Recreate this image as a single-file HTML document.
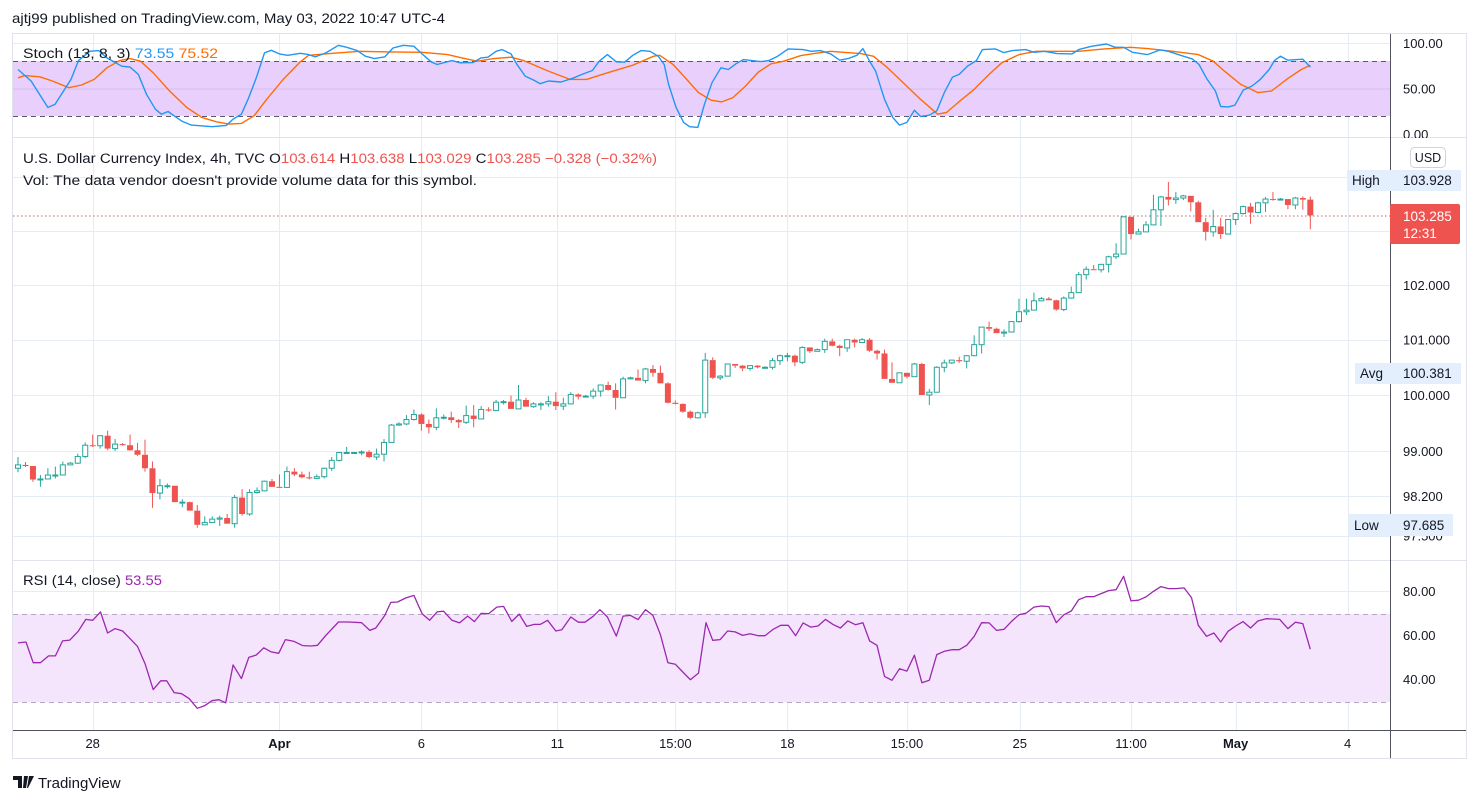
<!DOCTYPE html>
<html><head><meta charset="utf-8"><style>
html,body{margin:0;padding:0;background:#fff;}
svg{display:block;font-family:"Liberation Sans",sans-serif;}
</style></head><body>
<svg id="chart" width="1478" height="803" viewBox="0 0 1478 803" xmlns="http://www.w3.org/2000/svg">
<text x="12" y="23" font-size="14" fill="#131722" textLength="433" lengthAdjust="spacingAndGlyphs">ajtj99 published on TradingView.com, May 03, 2022 10:47 UTC-4</text>
<rect x="12.5" y="33.5" width="1454" height="725" fill="none" stroke="#e0e3eb"/>
<g id="grid"></g>
<g>
<rect x="13" y="61" width="1377" height="55" fill="#e9d0fc"/>
<line x1="13" y1="89" x2="1390" y2="89" stroke="#d3bbee" stroke-width="1"/>
<line x1="13" y1="61.5" x2="1390" y2="61.5" stroke="#5d5670" stroke-dasharray="5,4"/>
<line x1="13" y1="116.5" x2="1390" y2="116.5" stroke="#5d5670" stroke-dasharray="5,4"/>
<g id="stochLines"></g>
<text x="23" y="58" font-size="13.5" fill="#131722" textLength="195" lengthAdjust="spacingAndGlyphs">Stoch (13, 8, 3)  <tspan fill="#2196f3">73.55</tspan>  <tspan fill="#ff6d00">75.52</tspan></text>
</g>
<line x1="13" y1="137.5" x2="1466" y2="137.5" stroke="#e0e3eb"/>
<line x1="13" y1="560.5" x2="1466" y2="560.5" stroke="#e0e3eb"/>
<g id="pricePane">
<line x1="13" y1="216" x2="1390" y2="216" stroke="#ef5350" stroke-dasharray="1.5,2.5"/>
<g id="candles"></g>
<text x="23" y="163" font-size="13.5" fill="#131722" textLength="634" lengthAdjust="spacingAndGlyphs">U.S. Dollar Currency Index, 4h, TVC  O<tspan fill="#ef5350">103.614</tspan>  H<tspan fill="#ef5350">103.638</tspan>  L<tspan fill="#ef5350">103.029</tspan>  C<tspan fill="#ef5350">103.285</tspan>  <tspan fill="#ef5350">−0.328 (−0.32%)</tspan></text>
<text x="23" y="185" font-size="13.5" fill="#131722" textLength="454" lengthAdjust="spacingAndGlyphs">Vol: The data vendor doesn't provide volume data for this symbol.</text>
</g>
<g>
<rect x="13" y="614" width="1377" height="88" fill="#f4e5fd"/>
<line x1="13" y1="614.5" x2="1390" y2="614.5" stroke="#b6a8c4" stroke-dasharray="5,4"/>
<line x1="13" y1="702.5" x2="1390" y2="702.5" stroke="#b6a8c4" stroke-dasharray="5,4"/>
<g id="rsiLine"></g>
<text x="23" y="585" font-size="13.5" fill="#131722" textLength="139" lengthAdjust="spacingAndGlyphs">RSI (14, close)  <tspan fill="#9c27b0">53.55</tspan></text>
</g>
<line x1="13" y1="730.5" x2="1466" y2="730.5" stroke="#50535e"/>
<line x1="1390.5" y1="34" x2="1390.5" y2="758" stroke="#50535e"/>
<g id="axisLabels" font-size="13" fill="#131722"></g>
<g><rect x="1410.5" y="147.5" width="35" height="20" rx="4" fill="#fff" stroke="#d1d4dc"/><text x="1428" y="162" font-size="12.5" fill="#131722" text-anchor="middle">USD</text></g>
<g><rect x="1347" y="170" width="114" height="21" fill="#e3effd"/><text x="1352" y="185" font-size="13.5" fill="#131722">High</text><text x="1403" y="185" font-size="13.5" fill="#131722">103.928</text></g>
<g><rect x="1390" y="204" width="70" height="40" rx="2" fill="#ef5350"/><text x="1403" y="221" font-size="13.5" fill="#fff">103.285</text><text x="1403" y="238" font-size="13.5" fill="#fff">12:31</text></g>
<g><rect x="1355" y="363" width="106" height="21" fill="#e3effd"/><text x="1360" y="378" font-size="13.5" fill="#131722">Avg</text><text x="1403" y="378" font-size="13.5" fill="#131722">100.381</text></g>
<g><rect x="1349" y="514" width="104" height="22" fill="#e3effd"/><text x="1354" y="530" font-size="13.5" fill="#131722">Low</text><text x="1403" y="530" font-size="13.5" fill="#131722">97.685</text></g>
<g>
<path d="M13 776h9v12h-4v-8h-5z M24 776h4l-2 12h-3z M29 776h5l-6 12h-1z" fill="#131722"/>
<text x="38" y="788" font-size="15" fill="#131722">TradingView</text>
</g>
</svg>
<script>
const closes=[98.75,98.73,98.49,98.50,98.57,98.57,98.75,98.78,98.90,99.10,99.09,99.27,99.04,99.12,99.10,99.01,98.93,98.69,98.25,98.38,98.38,98.09,98.09,97.94,97.69,97.73,97.79,97.81,97.71,98.17,97.88,98.26,98.29,98.46,98.36,98.35,98.63,98.58,98.53,98.51,98.54,98.69,98.83,98.97,98.97,98.97,98.98,98.89,98.94,99.15,99.46,99.48,99.56,99.65,99.48,99.42,99.59,99.60,
99.55,99.51,99.63,99.57,99.74,99.72,99.87,99.88,99.75,99.91,99.79,99.84,99.84,99.88,99.80,99.84,100.01,99.97,99.98,100.07,100.18,100.09,99.95,100.29,100.31,100.26,100.47,100.40,100.21,99.86,99.84,99.70,99.59,99.68,
100.63,100.31,100.34,100.56,100.53,100.48,100.53,100.50,100.50,100.62,100.71,100.71,100.59,100.86,100.79,100.82,100.97,100.89,100.85,101.00,100.95,101.00,100.80,100.75,100.29,100.22,100.40,100.33,100.56,100.00,100.05,100.50,100.58,100.63,100.61,100.71,100.91,101.23,101.20,101.12,101.14,101.33,101.51,101.54,101.71,101.75,101.72,101.55,101.76,101.86,102.19,102.29,102.28,102.38,102.52,102.57,103.26,102.94,102.98,103.11,103.39,103.63,103.58,103.61,103.65,103.53,103.16,102.98,103.08,102.94,103.21,103.32,103.45,103.34,103.52,103.59,103.58,103.59,103.48,103.61,103.58,103.285];
const firstOpen=98.69;
const highs=[98.89,98.80,98.72,98.57,98.69,98.72,98.81,98.80,98.95,99.15,99.29,99.28,99.36,99.21,99.14,99.29,99.14,99.20,98.81,98.50,98.42,98.35,98.14,98.10,98.04,97.84,97.84,97.85,97.88,98.22,98.32,98.32,98.35,98.47,98.50,98.58,98.72,98.69,98.63,98.63,98.58,98.70,98.89,98.98,99.07,98.97,99.01,99.01,99.04,99.21,99.48,99.51,99.64,99.74,99.67,99.56,99.76,99.65,
99.70,99.57,99.81,99.82,99.80,99.78,99.91,99.91,99.99,100.18,99.95,99.87,99.87,99.98,100.05,99.95,100.05,100.03,100.00,100.12,100.18,100.24,100.21,100.33,100.33,100.46,100.49,100.54,100.53,100.23,99.90,99.85,99.72,99.70,
100.76,100.68,100.36,100.56,100.56,100.54,100.54,100.54,100.52,100.67,100.73,100.76,100.73,100.88,100.86,100.84,101.02,101.02,100.91,101.00,101.02,101.03,101.03,100.82,100.82,100.59,100.40,100.40,100.58,100.58,100.11,100.52,100.64,100.63,100.69,100.72,101.08,101.23,101.33,101.22,101.19,101.34,101.75,101.75,101.86,101.78,101.78,101.73,101.79,101.97,102.24,102.34,102.37,102.38,102.54,102.77,103.26,103.26,103.04,103.18,103.67,103.65,103.91,103.72,103.67,103.65,103.56,103.24,103.39,103.24,103.21,103.34,103.47,103.52,103.54,103.63,103.72,103.61,103.58,103.63,103.64,103.638];
const lows=[98.62,98.71,98.45,98.36,98.50,98.51,98.57,98.75,98.77,98.87,99.07,99.04,99.01,99.00,99.09,99.00,98.91,98.63,97.99,98.14,98.33,98.09,98.00,97.94,97.64,97.69,97.73,97.67,97.71,97.64,97.85,97.85,98.24,98.28,98.36,98.35,98.36,98.55,98.51,98.49,98.50,98.51,98.64,98.81,98.95,98.97,98.92,98.87,98.84,98.81,99.15,99.45,99.46,99.54,99.36,99.31,99.37,99.56,
99.50,99.41,99.48,99.42,99.58,99.70,99.79,99.83,99.75,99.75,99.79,99.77,99.73,99.79,99.73,99.73,99.83,99.92,99.96,99.93,99.97,100.08,99.74,99.95,100.29,100.26,100.21,100.33,100.21,99.85,99.83,99.68,99.57,99.58,
99.59,100.29,100.27,100.41,100.49,100.43,100.44,100.48,100.48,100.46,100.54,100.61,100.52,100.56,100.76,100.80,100.76,100.88,100.70,100.78,100.86,100.96,100.78,100.64,100.29,100.22,100.22,100.30,100.33,100.00,99.82,100.06,100.41,100.56,100.58,100.48,100.70,100.75,101.16,101.12,101.05,101.14,101.31,101.45,101.54,101.71,101.72,101.53,101.52,101.75,101.86,102.10,102.29,102.23,102.23,102.48,102.57,102.84,102.94,103.00,103.10,103.09,103.47,103.50,103.57,103.36,103.16,102.82,102.89,102.85,102.94,103.11,103.30,103.13,103.34,103.35,103.56,103.58,103.40,103.40,103.39,103.029];
const stochKBar=[0,1.75,4.0,4.96,7.1,8.1,9.6,10.8,11.9,13.9,15.0,16.1,17.2,18.4,19.2,20.1,20.9,22.0,23.2,26.0,27.9,28.8,29.9,30.8,31.9,33.0,33.9,35.0,36.1,37.8,38.9,39.8,41.2,42.9,44.0,45.4,46.5,47.7,49.1,50.2,51.6,53.0,54.1,55.3,56.1,58.1,59.2,60.9,62.0,62.9,64.0,64.8,66.0,66.8,67.9,69.1,69.9,71.0,72.7,74.4,75.5,76.9,77.8,78.9,80.1,81.2,82.3,83.4,84.6,85.7,86.5,87.1,88.1,89.1,89.9,91.0,91.9,92.9,94.1,95.1,96.1,97.1,99.4,100.5,101.7,103.1,105.1,106.2,107.4,108.8,110.0,111.1,112.3,113.1,114.0,114.8,116.0,117.1,118.0,119.0,120.0,120.8,122.0,123.0,124.0,125.1,126.0,127.1,128.3,129.1,130.8,132.0,133.1,134.9,136.0,137.4,139.1,141.1,142.0,143.7,145.7,146.9,148.0,149.2,151.2,152.9,154.0,156.0,157.2,158.1,159.2,160.3,161.0,162.0,162.9,164.0,165.2,166.3,167.5,168.2,169.0,170.0,172.0,173.0];
const stochKVal=[70.9,58.2,29.1,32.7,60.0,80.7,90.9,91.6,83.6,74.5,73.5,65.5,43.6,27.3,21.8,24.7,20.0,13.8,9.8,8.0,9.5,16.4,21.8,38.2,61.8,89.1,92.0,88.0,86.5,88.7,87.3,84.7,89.1,97.5,95.3,91.6,85.5,82.9,84.7,94.5,97.5,96.4,88.0,79.3,76.4,80.7,78.2,78.5,83.6,84.4,90.9,92.7,88.0,76.4,63.6,58.9,55.3,58.2,57.1,61.8,65.5,69.8,80.0,87.3,79.3,78.9,86.5,91.6,90.9,85.5,76.4,54.5,29.1,12.7,8.0,7.3,32.7,56.4,72.7,70.9,77.1,81.8,79.6,80.7,85.5,93.5,92.7,90.9,91.6,88.0,81.1,82.9,86.5,93.8,80.0,69.1,38.2,18.2,9.8,12.7,26.2,19.3,20.7,25.5,45.5,62.5,65.5,74.5,80.7,92.7,93.5,89.5,91.6,92.7,89.8,90.9,88.4,88.0,92.7,96.4,98.9,95.3,95.3,89.8,87.3,92.4,90.9,85.5,82.5,76.4,60.0,47.3,30.2,29.8,31.6,48.0,52.7,60.0,70.9,80.7,85.5,81.1,82.2,73.55];
const stochDBar=[0,0.9,2.9,4.6,6.8,8.5,10.2,11.9,13.6,15.0,16.4,18.1,20.3,22.6,24.6,26.5,28.2,29.9,31.6,33.3,35.5,37.8,38.9,41.7,45.7,49.6,54.1,57.5,59.8,61.5,63.7,66.0,67.7,71.0,73.9,76.1,78.9,82.3,85.1,85.9,87.7,89.4,91.1,92.8,94.2,95.7,97.4,99.1,100.8,102.5,104.8,107.1,108.8,110.5,112.8,114.5,116.3,118.5,120.8,123.1,124.3,126.0,128.0,130.0,131.7,134.0,136.3,142.0,145.4,148.9,151.2,154.6,158.0,160.0,161.5,163.7,166.0,167.8,170.0,171.8,173.0];
const stochDVal=[61.8,64.2,62.9,58.2,50.9,53.8,60.0,72.7,80.7,82.9,80.0,67.3,47.3,29.1,18.2,13.5,10.9,11.6,20.0,38.2,60.0,79.3,86.5,88.4,90.9,90.2,89.8,87.3,82.9,80.0,82.9,84.4,80.7,69.1,60.0,60.0,67.3,75.6,85.5,86.5,76.4,61.1,45.5,37.1,35.3,40.0,52.7,68.0,77.1,80.0,86.2,89.1,90.9,89.8,88.4,85.5,73.5,56.4,38.2,21.8,23.6,35.6,49.1,65.5,78.2,87.3,90.9,90.9,93.5,95.3,93.8,90.9,87.3,80.0,69.1,54.5,45.5,47.3,61.1,70.9,75.52];
const rsiBar=[0,1.07,2.03,3.0,4.1,5.0,5.97,6.93,8.06,9.07,10.0,11.04,12.0,13.0,14.0,15.0,16.0,17.0,18.1,19.1,19.9,20.9,21.9,22.9,24.0,25.0,26.0,26.9,27.8,28.8,29.9,30.9,31.9,32.9,33.9,34.9,35.8,36.96,38.1,39.2,40.1,41.2,42.9,44.3,46.0,47.1,47.9,49.1,49.9,50.8,51.9,53.0,54.1,55.1,56.1,56.96,58.1,59.1,60.2,61.1,62.0,63.0,64.1,65.0,66.1,67.1,68.1,69.1,69.9,70.9,72.0,72.8,74.0,75.0,75.9,77.0,77.9,78.9,80.1,81.0,82.0,83.0,84.0,85.0,86.0,87.0,88.0,89.0,90.0,91.1,92.1,93.0,94.0,95.0,96.0,97.0,98.0,99.1,100.0,101.1,102.1,103.1,104.1,105.1,106.1,107.1,108.1,109.1,110.1,111.1,112.1,113.1,114.0,115.0,116.0,117.0,118.0,119.0,120.0,121.0,122.0,123.0,124.0,125.0,126.0,127.0,128.0,129.0,130.0,131.0,132.0,133.0,134.0,135.0,136.0,137.0,138.0,139.0,140.0,141.0,142.0,143.0,144.0,145.0,146.0,147.0,148.0,149.0,150.0,151.0,152.0,153.0,154.0,155.0,156.1,157.1,158.0,159.1,160.1,161.0,162.0,163.0,164.0,165.0,166.0,167.1,168.9,170.0,171.0,172.0,173.0];
const rsiVal=[56.4,56.8,47.4,47.4,50.5,50.5,57.3,57.7,61.7,67.1,66.7,70.5,60.9,62.9,61.8,58.3,54.8,47.0,35.2,39.2,39.2,33.8,33.3,31.1,26.7,27.9,30.2,30.6,29.2,46.4,40.2,49.8,50.9,54.2,52.3,51.7,57.9,57.1,55.2,55.0,55.3,59.8,65.9,65.9,65.6,62.1,63.2,68.9,74.8,75.0,76.8,78.0,69.7,66.7,70.5,70.8,66.7,65.5,68.6,66.1,69.8,69.7,72.7,73.0,66.2,69.5,63.9,64.8,64.8,66.7,61.8,62.4,68.2,65.8,65.8,68.5,71.5,68.2,59.5,68.6,68.9,67.0,71.5,68.9,60.2,47.4,46.7,43.2,39.7,42.7,65.6,57.6,57.9,61.8,61.4,59.8,60.6,59.7,59.7,62.6,64.4,64.4,59.7,65.5,63.6,64.1,67.1,64.8,63.2,66.4,64.7,65.6,57.3,55.3,41.2,39.4,44.7,43.6,50.8,38.3,39.4,51.1,52.6,53.3,53.3,55.3,59.4,65.6,65.5,62.1,62.6,66.2,69.2,70.0,72.7,73.2,72.9,65.6,69.2,70.9,76.1,77.4,77.4,78.8,80.2,80.6,86.7,75.5,75.8,77.3,79.8,82.0,81.1,81.1,81.4,77.0,64.4,59.4,60.9,56.8,61.7,64.1,66.1,63.2,66.4,67.4,67.1,62.9,65.8,65.2,53.55];
const timeLabels=["28","Apr","6","11","15:00","18","15:00","25","11:00","May","4"];
const timeLabelBars=[10,35,54,72.2,88,103,119,134.1,149,163,178];
const priceTicks=[102,101,100,99,98.2,97.5];
const priceGrid=[104,103,102,101,100,99,98.2,97.5];
const stochTicks=[100,50,0];
const rsiTicks=[80,60,40];
const rsiGrid=[80,60,40];

const NS="http://www.w3.org/2000/svg";
const xBar=i=>18+i*7.47;
const yPrice=p=>395-5555*Math.log(p/100);
const yStoch=v=>134-v*0.91;
const yRsi=v=>767-2.2*v;
function mk(tag,attrs,parent){const e=document.createElementNS(NS,tag);for(const k in attrs)e.setAttribute(k,attrs[k]);parent.appendChild(e);return e;}
const grid=document.getElementById('grid');
timeLabelBars.forEach((b,i)=>{const x=Math.round(xBar(b))+0.5;
 const l=mk('line',{x1:x,y1:34,x2:x,y2:730,stroke:'#e6ecf3'},grid);
 
 });
priceGrid.forEach(p=>{const y=Math.round(yPrice(p))+0.5;
 const l=mk('line',{x1:13,y1:y,x2:1390,y2:y,stroke:'#e6ecf3'},grid);
 
 });
[100].forEach(v=>{const y=Math.round(yStoch(v))+0.5;const l=mk('line',{x1:13,y1:y,x2:1390,y2:y,stroke:'#e6ecf3'},grid);
 
 });
rsiGrid.forEach(v=>{const y=Math.round(yRsi(v))+0.5;const l=mk('line',{x1:13,y1:y,x2:1390,y2:y,stroke:v==80?'#e6ecf3':'#dccbef'},grid);
 
 });
const cg=document.getElementById('candles');
closes.forEach((c,i)=>{const o=i==0?firstOpen:closes[i-1];const up=c>=o;const col=up?'#26a69a':'#ef5350';
 const x=xBar(i);const h=Math.max(highs[i],o,c),lo=Math.min(lows[i],o,c);
 const g=mk('g',{},cg);
 
 
 const yt=yPrice(Math.max(o,c)),yb=yPrice(Math.min(o,c));
 mk('line',{x1:x,y1:yPrice(h),x2:x,y2:yt,stroke:col,'stroke-width':1},g);
 mk('line',{x1:x,y1:yb,x2:x,y2:yPrice(lo),stroke:col,'stroke-width':1},g);
 const bh=Math.max(yb-yt,1);
 if(up) mk('rect',{x:x-2.5,y:yt,width:5,height:bh,fill:'#fff',stroke:col,'stroke-width':1},g);
 else mk('rect',{x:x-3,y:yt,width:6,height:bh,fill:col},g);
});
function line(bars,vals,yf,color,parent,name,w){const d=bars.map((b,i)=>(i?'L':'M')+xBar(b).toFixed(1)+' '+yf(vals[i]).toFixed(1)).join(' ');
 const p=mk('path',{d:d,fill:'none',stroke:color,'stroke-width':w,'stroke-linejoin':'round'},parent);
 
 }
const sl=document.getElementById('stochLines');
line(stochDBar,stochDVal,yStoch,'#ff6d00',sl,'stoch-d-line',1.4);
line(stochKBar,stochKVal,yStoch,'#2196f3',sl,'stoch-k-line',1.4);
line(rsiBar,rsiVal,yRsi,'#9c27b0',document.getElementById('rsiLine'),'rsi-line',1.3);
const ax=document.getElementById('axisLabels');
priceTicks.forEach(p=>{const t=mk('text',{x:1403,y:yPrice(p)+5},ax);t.textContent=p.toFixed(3);
 
 });
stochTicks.forEach(v=>{const t=mk('text',{x:1403,y:yStoch(v)+5},ax);t.textContent=v.toFixed(2);
 
 });
rsiTicks.forEach(v=>{const t=mk('text',{x:1403,y:yRsi(v)+5},ax);t.textContent=v.toFixed(2);
 
 });
timeLabels.forEach((s,i)=>{const t=mk('text',{x:xBar(timeLabelBars[i]),y:748,'text-anchor':'middle','font-weight':(s=='Apr'||s=='May')?'bold':'normal'},ax);t.textContent=s;
 
 });
const cov=mk('rect',{x:1391,y:138,width:75,height:6,fill:'#fff'},ax);


</script>
</body></html>
